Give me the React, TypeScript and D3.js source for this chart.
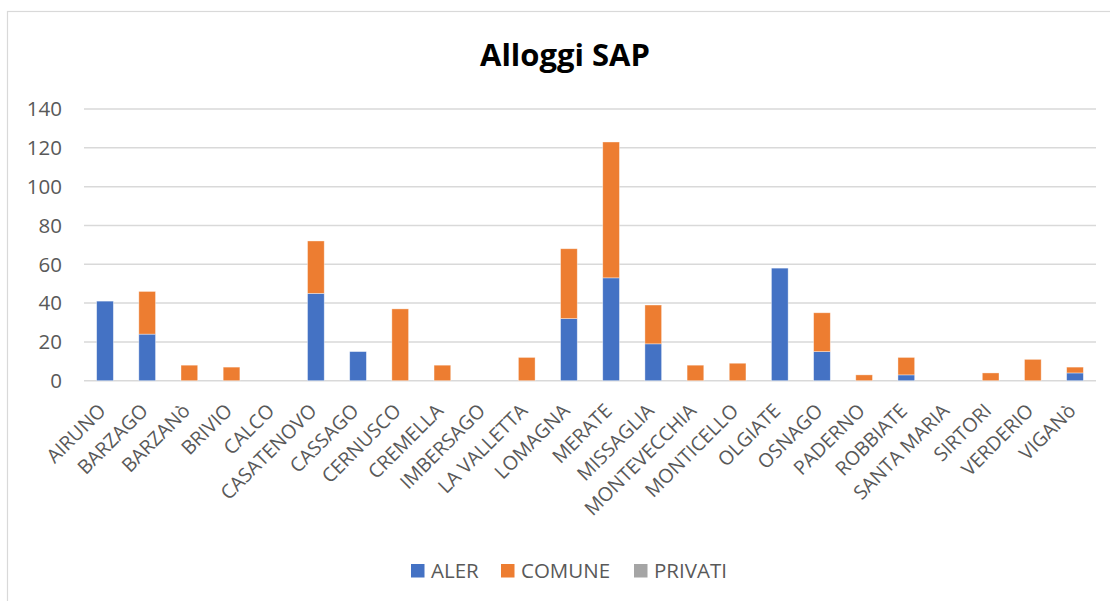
import React from "react";
import * as d3 from "d3";

const categories = [
  "AIRUNO", "BARZAGO", "BARZANò", "BRIVIO", "CALCO", "CASATENOVO", "CASSAGO",
  "CERNUSCO", "CREMELLA", "IMBERSAGO", "LA VALLETTA", "LOMAGNA", "MERATE",
  "MISSAGLIA", "MONTEVECCHIA", "MONTICELLO", "OLGIATE", "OSNAGO", "PADERNO",
  "ROBBIATE", "SANTA MARIA", "SIRTORI", "VERDERIO", "VIGANò",
];
const aler = [41, 24, 0, 0, 0, 45, 15, 0, 0, 0, 0, 32, 53, 19, 0, 0, 58, 15, 0, 3, 0, 0, 0, 4];
const comune = [0, 22, 8, 7, 0, 27, 0, 37, 8, 0, 12, 36, 70, 20, 8, 9, 0, 20, 3, 9, 0, 4, 11, 3];
const privati = [0, 0, 0, 0, 0, 0, 0, 0, 0, 0, 0, 0, 0, 0, 0, 0, 0, 0, 0, 0, 0, 0, 0, 0];
const seriesNames = ["ALER", "COMUNE", "PRIVATI"];
const seriesColors = ["#4472C4", "#ED7D31", "#A5A5A5"];
const yTicks = [0, 20, 40, 60, 80, 100, 120, 140];
const title = "Alloggi SAP";

const W = 1110;
const H = 601;
const FONT = "'Open Sans', 'Segoe UI', sans-serif";

export default function App() {
  const rows = categories.map((c, i) => ({
    cat: c,
    ALER: aler[i],
    COMUNE: comune[i],
    PRIVATI: privati[i],
  }));
  const stack = d3.stack<any>().keys(seriesNames)(rows);

  const x = d3
    .scaleBand<string>()
    .domain(categories)
    .range([84, 1096])
    .paddingInner(0.604)
    .paddingOuter(0.3);
  const y = d3.scaleLinear().domain([0, 140]).range([380.7, 109]);

  const legendX = [411, 501, 634];

  return (
    <svg
      width={W}
      height={H}
      style={{ position: "absolute", left: 0, top: 0, background: "#fff" }}
      fontFamily={FONT}
    >
      <rect x={0} y={0} width={W} height={H} fill="#fff" />
      <rect x={7.5} y={11.5} width={1300} height={800} fill="none" stroke="#D9D9D9" strokeWidth={1.2} />
      <text x={565} y={66} textAnchor="middle" fontSize={31} fontWeight="bold" fill="#000">
        {title}
      </text>
      {yTicks.map((t) => (
        <g key={t}>
          <line x1={84} x2={1096} y1={y(t)} y2={y(t)} stroke="#D9D9D9" strokeWidth={1.5} />
          <text x={62} y={y(t)} dy="0.36em" textAnchor="end" fontSize={20.5} fill="#595959">
            {t}
          </text>
        </g>
      ))}
      {stack.map((s, si) => (
        <g key={s.key} fill={seriesColors[si]}>
          {s.map((d, i) =>
            d[1] - d[0] > 0 ? (
              <rect
                key={i}
                x={x(categories[i])!}
                width={x.bandwidth()}
                y={y(d[1])}
                height={y(d[0]) - y(d[1])}
                stroke="#fff"
                strokeOpacity={0.5}
                strokeWidth={0.75}
              />
            ) : null
          )}
        </g>
      ))}
      {categories.map((c) => {
        const cx = x(c)! + x.bandwidth() / 2;
        return (
          <text
            key={c}
            transform={`translate(${cx + 2},${412}) rotate(-45)`}
            textAnchor="end"
            fontSize={19.5}
            fill="#595959"
          >
            {c}
          </text>
        );
      })}
      {seriesNames.map((n, i) => (
        <g key={n}>
          <rect x={legendX[i]} y={564} width={13.5} height={13.5} fill={seriesColors[i]} />
          <text x={legendX[i] + 20} y={578} fontSize={20.5} fill="#595959">
            {n}
          </text>
        </g>
      ))}
    </svg>
  );
}
